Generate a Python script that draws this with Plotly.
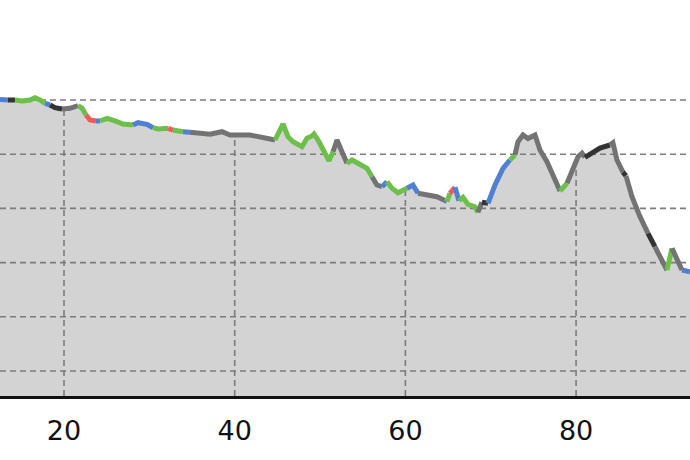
import numpy as np
import plotly.graph_objects as go

# Distance along the route (x) and elevation (y)
distance = [12.50, 13.44, 14.26, 15.08, 16.02, 16.60, 17.19, 17.77, 18.36, 18.95,
            19.77, 20.70, 21.64, 22.11, 22.58, 23.05, 23.75, 24.22, 25.04, 25.98,
            26.91, 28.08, 28.67, 29.72, 30.43, 31.01, 32.19, 32.77, 33.94, 34.76,
            37.11, 38.51, 39.45, 41.79, 43.79, 44.72, 45.66, 46.24, 46.83, 47.88,
            48.47, 49.06, 49.29, 49.76, 50.58, 51.05, 51.52, 51.99, 52.57, 53.16,
            53.74, 54.45, 55.50, 56.09, 56.67, 57.26, 57.85, 58.43, 59.13, 59.95,
            60.19, 60.89, 61.48, 62.53, 63.70, 64.58, 64.87, 65.22, 65.81, 66.28,
            66.75, 67.33, 68.15, 68.50, 68.97, 69.68, 70.50, 71.44, 72.25, 72.84,
            73.19, 73.78, 74.37, 75.19, 75.77, 76.59, 77.30, 78.12, 78.94, 79.64,
            80.23, 80.70, 81.04, 81.98, 82.80, 83.97, 84.32, 84.79, 85.49, 85.85,
            86.55, 87.49, 88.43, 89.24, 90.07, 90.65, 91.24, 91.83, 92.41, 93.35]

elevation = [600.9, 600.0, 600.0, 598.2, 600.0, 604.2, 600.0, 593.9, 590.8, 585.8,
             583.4, 584.7, 589.5, 585.2, 572.3, 563.1, 561.3, 561.3, 566.2, 561.3,
             555.7, 553.9, 558.1, 555.2, 548.9, 546.5, 547.8, 544.6, 541.5, 540.4,
             536.7, 541.5, 535.4, 535.4, 529.3, 526.2, 555.7, 532.3, 523.1, 513.8,
             529.3, 533.6, 537.3, 526.2, 504.6, 488.0, 504.6, 526.2, 504.6, 483.2,
             489.3, 483.2, 474.0, 458.5, 443.2, 440.0, 449.3, 437.1, 428.9, 433.9,
             437.1, 443.2, 427.9, 424.7, 421.6, 415.0, 412.4, 427.9, 439.0, 414.2,
             420.5, 407.6, 403.1, 392.8, 411.3, 409.4, 443.2, 474.0, 489.3, 498.5,
             523.0, 535.4, 529.0, 535.4, 507.7, 486.2, 461.6, 432.1, 446.3, 470.8,
             495.4, 501.8, 494.3, 504.6, 511.4, 517.0, 521.2, 489.3, 467.0, 460.0,
             421.6, 384.7, 354.1, 329.3, 304.8, 286.3, 326.4, 304.8, 286.3, 283.2]

# Colour class of the segment that starts at each point
segment_class = ["blue", "black", "green", "green", "green", "green", "green", "blue", "black", "black",
                 "gray", "gray", "green", "green", "red", "red", "blue", "green", "green", "green",
                 "green", "blue", "blue", "blue", "green", "green", "red", "green", "blue", "gray",
                 "gray", "gray", "gray", "gray", "gray", "green", "green", "green", "green", "green",
                 "green", "green", "green", "green", "green", "green", "gray", "gray", "gray", "green",
                 "green", "green", "green", "gray", "gray", "blue", "green", "green", "green", "green",
                 "blue", "blue", "gray", "gray", "gray", "blue", "green", "red", "blue", "green",
                 "green", "green", "green", "gray", "black", "blue", "blue", "blue", "green", "gray",
                 "gray", "gray", "gray", "gray", "gray", "gray", "gray", "green", "gray", "gray",
                 "gray", "gray", "black", "black", "black", "gray", "gray", "gray", "black", "gray",
                 "gray", "gray", "black", "gray", "gray", "green", "gray", "gray", "blue", "blue"]

x_ticks = [20, 40, 60, 80]
y_grid = [100, 200, 300, 400, 500, 600]
x_range = [12.5, 93.35]
y_range = [53.9, 784.5]

palette = {"gray": "#737373", "green": "#6cc04a", "blue": "#4f80d2",
           "red": "#f05a5a", "black": "#333333"}
grid_style = dict(color="#7c7c7c", width=1.6, dash="6px,4px")

fig = go.Figure()

# filled profile
fig.add_trace(go.Scatter(x=distance, y=elevation, mode="lines", fill="tozeroy",
                         fillcolor="#d3d3d3", line=dict(width=0),
                         hoverinfo="skip", showlegend=False))

# horizontal dashed grid (drawn over the fill)
hx, hy = [], []
for v in y_grid:
    hx += [x_range[0], x_range[1], None]
    hy += [v, v, None]
fig.add_trace(go.Scatter(x=hx, y=hy, mode="lines", line=grid_style,
                         hoverinfo="skip", showlegend=False))

# vertical dashed markers from the axis up to the profile
vx, vy = [], []
for t in x_ticks:
    top = float(np.interp(t, distance, elevation))
    vx += [t, t, None]
    vy += [y_range[0], top, None]
fig.add_trace(go.Scatter(x=vx, y=vy, mode="lines", line=grid_style,
                         hoverinfo="skip", showlegend=False))

# coloured profile line, one trace per run of equal colour
n = len(distance)
i = 0
while i < n - 1:
    c = segment_class[i]
    j = i
    while j + 1 < n - 1 and segment_class[j + 1] == c:
        j += 1
    fig.add_trace(go.Scatter(x=distance[i:j + 2], y=elevation[i:j + 2], mode="lines",
                             line=dict(color=palette[c], width=5),
                             hoverinfo="skip", showlegend=False))
    i = j + 1

fig.update_layout(
    width=690, height=460,
    margin=dict(l=0, r=0, t=0, b=64),
    paper_bgcolor="white", plot_bgcolor="white",
    font=dict(family="DejaVu Sans", size=27, color="#111111"),
    xaxis=dict(range=x_range, tickvals=x_ticks, showgrid=False, zeroline=False,
               showline=True, linecolor="#111111", linewidth=2.5,
               ticks="outside", ticklen=9, tickcolor="rgba(0,0,0,0)"),
    yaxis=dict(range=y_range, tickvals=y_grid, showticklabels=False, zeroline=False,
               showgrid=False, showline=False),
)

fig.write_html("out.html", config={"displayModeBar": False},
               post_script="document.body.style.margin='0';document.body.style.padding='0';"
                           "document.documentElement.style.overflow='hidden';")
